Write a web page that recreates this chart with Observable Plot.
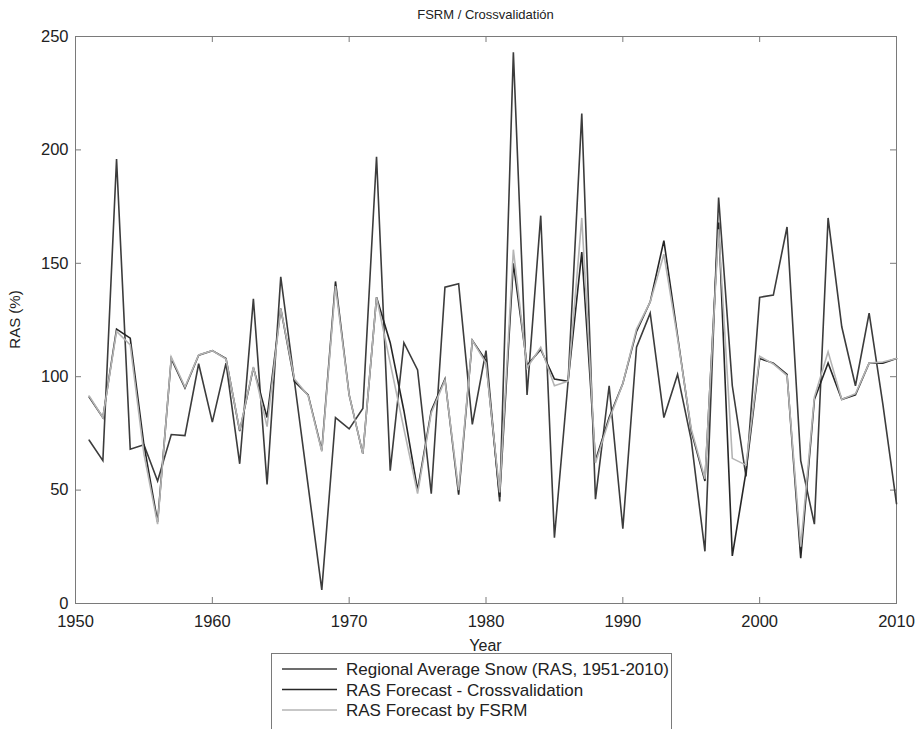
<!DOCTYPE html>
<html>
<head>
<meta charset="utf-8">
<script src="https://cdn.jsdelivr.net/npm/d3@7"></script>
<script src="https://cdn.jsdelivr.net/npm/@observablehq/plot@0.6"></script>
<style>
  body { margin: 0; background: #fff; }
  #chart svg { font-family: "Liberation Sans", Arial, sans-serif; }
</style>
</head>
<body>
<div id="chart"></div>
<script>
// ---- data ----
const years = [
  1951,1952,1953,1954,1955,1956,1957,1958,1959,1960,
  1961,1962,1963,1964,1965,1966,1967,1968,1969,1970,
  1971,1972,1973,1974,1975,1976,1977,1978,1979,1980,
  1981,1982,1983,1984,1985,1986,1987,1988,1989,1990,
  1991,1992,1993,1994,1995,1996,1997,1998,1999,2000,
  2001,2002,2003,2004,2005,2006,2007,2008,2009,2010
];
const rasObserved = [
  72,63,196,68,70,54,74.5,74,105.7,80,
  106,61.6,134.3,52.5,144,98,52,6,82,77,
  86,197,58.6,115,103,48.4,139.5,141,79,111.5,
  45,243,92,171,29,98,216,46,96,33,
  113,128,82,101,72,23,179,96,56,135,
  136,166,63,35,170,122,96,128,88,44
];
const rasCrossval = [
  91,82,121,117,70,36,108,95,109.5,111.5,
  108,76,104,82,130,98,92,67.5,142,92,
  66,135,115,85,50,85,99,48,116,107,
  47,150,105,112,99,98,155,63,82,97,
  120,133,160,118,76,54,168,21,58,108,
  106,101,20,90,106,90,92,106,106,108
];
const rasFSRM = [
  91.5,82,120,114,66,35,108.6,95.4,109.6,111.5,
  107.8,76.3,104.3,78,130,99,91.7,67,140,92,
  66,135,106,77,48.5,84,98.5,50,116,106,
  49,156,104,113,96,98,170,62,81,97,
  121,133,154,117,77,55,165,64,61,109,
  105.6,100.5,25,91,111,90,92.5,106,106.5,108
];
const xTicks = [1950,1960,1970,1980,1990,2000,2010];
const yTicks = [0,50,100,150,200,250];
const seriesNames = [
  "Regional Average Snow (RAS, 1951-2010)",
  "RAS Forecast - Crossvalidation",
  "RAS Forecast by FSRM"
];
const seriesColors = ["#3c3c3c", "#262626", "#b4b4b4"];
const titleText = "FSRM / Crossvalidatión";
const xLabel = "Year";
const yLabel = "RAS (%)";

// ---- layout ----
const W = 919, H = 729;
const mL = 75, mR = 23, mT = 36, mB = 126;
const plotW = W - mL - mR, plotH = H - mT - mB;
const tick = 6;

const toRows = (vals) => years.map((y, i) => ({year: y, v: vals[i]}));
const seriesVals = [rasObserved, rasCrossval, rasFSRM];

const chart = Plot.plot({
  width: W,
  height: H,
  marginLeft: mL, marginRight: mR, marginTop: mT, marginBottom: mB,
  style: {background: "#fff", color: "#222", fontFamily: "Liberation Sans, Arial, sans-serif"},
  x: {domain: [1950, 2010]},
  y: {domain: [0, 250]},
  marks: [
    Plot.frame({stroke: "#7a7a7a", strokeWidth: 1}),
    // inward ticks (MATLAB style) on all four sides
    Plot.ruleX(xTicks, {x: d => d, insetTop: plotH - tick, stroke: "#7a7a7a"}),
    Plot.ruleX(xTicks, {x: d => d, insetBottom: plotH - tick, stroke: "#7a7a7a"}),
    Plot.ruleY(yTicks, {y: d => d, insetRight: plotW - tick, stroke: "#7a7a7a"}),
    Plot.ruleY(yTicks, {y: d => d, insetLeft: plotW - tick, stroke: "#7a7a7a"}),
    Plot.axisX(xTicks, {tickSize: 0, tickPadding: 12, tickFormat: d => String(d), fontSize: 16.5, label: null, fill: "#222"}),
    Plot.axisY(yTicks, {tickSize: 0, tickPadding: 7, tickFormat: d => String(d), fontSize: 16.5, label: null, fill: "#222"}),
    ...seriesVals.map((vals, i) =>
      Plot.line(toRows(vals), {x: "year", y: "v", stroke: seriesColors[i], strokeWidth: 1.6, strokeLinejoin: "miter", strokeMiterlimit: 4})
    )
  ]
});

const svg = d3.select(chart);
// title
svg.append("text").attr("x", mL + plotW / 2).attr("y", 19)
  .attr("text-anchor", "middle").attr("font-size", 13).attr("fill", "#222").text(titleText);
// axis labels
svg.append("text").attr("x", mL + plotW / 2).attr("y", 651)
  .attr("text-anchor", "middle").attr("font-size", 16).attr("fill", "#222").text(xLabel);
svg.append("text").attr("transform", `translate(20,${mT + plotH / 2}) rotate(-90)`)
  .attr("text-anchor", "middle").attr("font-size", 15).attr("fill", "#222").text(yLabel);
// legend
const lg = svg.append("g").attr("text-anchor", "start");
lg.append("rect").attr("x", 271.5).attr("y", 653.5).attr("width", 400).attr("height", 100)
  .attr("fill", "#fff").attr("stroke", "#7a7a7a");
seriesNames.forEach((name, i) => {
  const cy = 669 + i * 20.5;
  lg.append("line").attr("x1", 282).attr("x2", 337).attr("y1", cy).attr("y2", cy)
    .attr("stroke", seriesColors[i]).attr("stroke-width", 1.6);
  lg.append("text").attr("x", 346).attr("y", cy + 6).attr("font-size", 17)
    .attr("text-anchor", "start").attr("fill", "#222").text(name);
});

document.getElementById("chart").appendChild(chart);
</script>
</body>
</html>
